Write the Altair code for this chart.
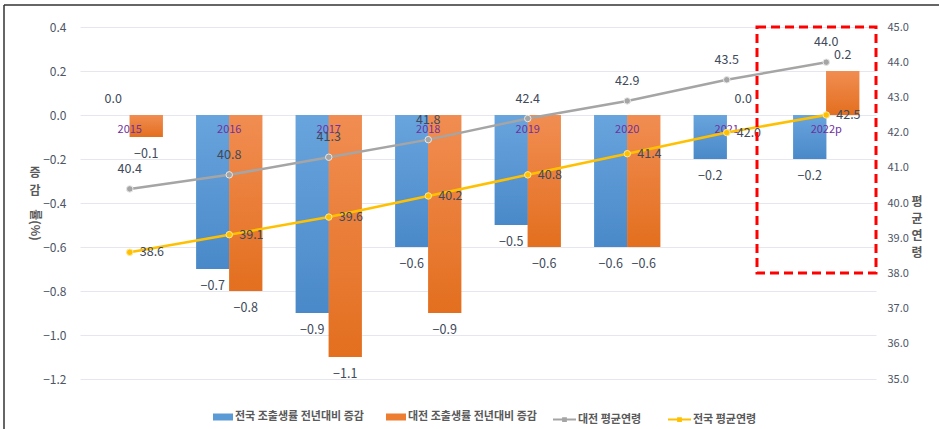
import altair as alt
import pandas as pd

years = ["2015", "2016", "2017", "2018", "2019", "2020", "2021", "2022p"]
nat_rate = [0.0, -0.7, -0.9, -0.6, -0.5, -0.6, -0.2, -0.2]
dj_rate = [-0.1, -0.8, -1.1, -0.9, -0.6, -0.6, 0.0, 0.2]
dj_age = [40.4, 40.8, 41.3, 41.8, 42.4, 42.9, 43.5, 44.0]
nat_age = [38.6, 39.1, 39.6, 40.2, 40.8, 41.4, 42.0, 42.5]
bar_names = ["전국 조출생률 전년대비 증감", "대전 조출생률 전년대비 증감"]
line_names = ["대전 평균연령", "전국 평균연령"]
left_ticks = [-1.2, -1.0, -0.8, -0.6, -0.4, -0.2, 0.0, 0.2, 0.4]
right_ticks = [35, 36, 37, 38, 39, 40, 41, 42, 43, 44, 45]

FONT = "Noto Sans CJK KR"
BLUE, ORANGE, GRAY, YELLOW = "#5B9BD5", "#ED7D31", "#A5A5A5", "#FFC000"
LABEL = "#404a5a"
TICK = "#4d5566"

bars = pd.DataFrame(
    [{"year": y, "series": bar_names[0], "value": v} for y, v in zip(years, nat_rate)]
    + [{"year": y, "series": bar_names[1], "value": v} for y, v in zip(years, dj_rate)]
)
lines = pd.DataFrame(
    [{"year": y, "series": line_names[0], "value": v} for y, v in zip(years, dj_age)]
    + [{"year": y, "series": line_names[1], "value": v} for y, v in zip(years, nat_age)]
)
cats = pd.DataFrame({"year": years})
one = pd.DataFrame({"a": [0]})

xscale = alt.Scale(domain=years, paddingInner=0.337, paddingOuter=0.1685)
off_scale = alt.Scale(domain=bar_names, paddingInner=0, paddingOuter=0)
yl_scale = alt.Scale(domain=[-1.2, 0.4], nice=False, zero=False)
yr_scale = alt.Scale(domain=[35, 45], nice=False, zero=False)

X_axis = alt.X("year:N", scale=xscale, sort=years,
               axis=alt.Axis(labels=False, ticks=False, domain=False, grid=False,
                             title="축 제목", titleFont=FONT, titleFontSize=11,
                             titleColor="#595959", titleFontWeight="bold", titlePadding=4))
X_plain = alt.X("year:N", scale=xscale, sort=years, axis=None)
XO = alt.XOffset("series:N", scale=off_scale, sort=bar_names)

left_axis = alt.Axis(values=left_ticks, format=".1f", grid=True, gridColor="#e6e7ee",
                     domain=False, ticks=False, labelPadding=14, labelFontSize=12,
                     labelFont=FONT, labelColor=TICK, title=None, orient="left")
right_axis = alt.Axis(orient="right", values=right_ticks, format=".1f", grid=False,
                      domain=False, ticks=False, labelPadding=11, labelFontSize=11,
                      labelFont=FONT, labelColor=TICK, title=None)

grad_blue = {"gradient": "linear", "x1": 0, "y1": 0, "x2": 0, "y2": 1,
             "stops": [{"offset": 0, "color": "#68a4dd"}, {"offset": 1, "color": "#4a89c9"}]}
grad_orange = {"gradient": "linear", "x1": 0, "y1": 0, "x2": 0, "y2": 1,
               "stops": [{"offset": 0, "color": "#f18d52"}, {"offset": 1, "color": "#e36f1f"}]}

bar_base = alt.Chart(bars).mark_bar().encode(
    x=X_axis,
    xOffset=XO,
    y=alt.Y("value:Q", scale=yl_scale, axis=left_axis),
    fill=alt.Fill("series:N", scale=alt.Scale(domain=bar_names, range=[BLUE, ORANGE]),
                  legend=alt.Legend(orient="none", legendX=133, legendY=380, direction="horizontal",
                                    title=None, symbolType="M-1,-0.35H1V0.35H-1Z", symbolSize=400,
                                    labelFont=FONT, labelFontSize=11, labelFontWeight="bold",
                                    labelColor="#595959", labelOffset=2, columnPadding=22,
                                    padding=0, symbolStrokeWidth=0)),
)
bar_grad = alt.Chart(bars).mark_bar().encode(
    x=X_plain, xOffset=XO,
    y=alt.Y("value:Q", scale=yl_scale, axis=None),
    fill=alt.condition(alt.datum.series == bar_names[0], alt.value(grad_blue), alt.value(grad_orange)),
)
lab_pos = alt.Chart(bars).transform_filter(alt.datum.value >= 0).mark_text(
    dy=-16, font=FONT, fontSize=12.5, color=LABEL, baseline="middle").encode(
    x=X_plain, xOffset=XO, y=alt.Y("value:Q", scale=yl_scale, axis=None),
    text=alt.Text("value:Q", format=".1f"))
lab_neg = alt.Chart(bars).transform_filter(alt.datum.value < 0).mark_text(
    dy=17, font=FONT, fontSize=12.5, color=LABEL, baseline="middle").encode(
    x=X_plain, xOffset=XO, y=alt.Y("value:Q", scale=yl_scale, axis=None),
    text=alt.Text("value:Q", format=".1f"))
cat_lab = alt.Chart(cats).transform_calculate(zero="0").mark_text(
    dy=15, font=FONT, fontSize=11, color="#7030A0", baseline="middle").encode(
    x=X_plain, y=alt.Y("zero:Q", scale=yl_scale, axis=None), text="year:N")

red_box = alt.Chart(one).mark_rect(fill="transparent", stroke="#FF0000", strokeWidth=3,
                                   strokeDash=[9, 5]).encode(
    x=alt.value(677), x2=alt.value(796), y=alt.value(0), y2=alt.value(246))

border_top = alt.Chart(one).mark_rule(color="#333333", strokeWidth=1.5).encode(
    x=alt.value(-76), x2=alt.value(859), y=alt.value(-22), y2=alt.value(-22))
border_left = alt.Chart(one).mark_rule(color="#333333", strokeWidth=1.5).encode(
    x=alt.value(-76), x2=alt.value(-76), y=alt.value(-22), y2=alt.value(402))

title_style = dict(font=FONT, fontSize=12, fontWeight="bold", color="#595959", baseline="middle")
left_t1 = alt.Chart(one).mark_text(**title_style).encode(
    x=alt.value(-45), y=alt.value(146), text=alt.value("증"))
left_t2 = alt.Chart(one).mark_text(**title_style).encode(
    x=alt.value(-45), y=alt.value(164), text=alt.value("감"))
left_t3 = alt.Chart(one).mark_text(angle=90, **title_style).encode(
    x=alt.value(-45), y=alt.value(198), text=alt.value("률(%)"))
right_title = alt.Chart(one).mark_text(lineBreak="\n", lineHeight=17, **title_style).encode(
    x=alt.value(837), y=alt.value(175), text=alt.value("평\n균\n연\n령"))

line_layer = alt.Chart(lines).mark_line(strokeWidth=2.5).encode(
    x=X_plain,
    y=alt.Y("value:Q", scale=yr_scale, axis=right_axis),
    stroke=alt.Stroke("series:N", scale=alt.Scale(domain=line_names, range=[GRAY, YELLOW]),
                      legend=alt.Legend(orient="none", legendX=472, legendY=380, direction="horizontal",
                                        title=None,
                                        symbolType="M-1,0H1M-0.12,-0.12H0.12V0.12H-0.12Z",
                                        symbolSize=529, symbolStrokeWidth=2,
                                        labelFont=FONT, labelFontSize=11, labelFontWeight="bold",
                                        labelColor="#595959", labelOffset=1, columnPadding=22,
                                        padding=0)),
)
pts = alt.Chart(lines).mark_circle(size=42, strokeWidth=1, opacity=1).encode(
    x=X_plain, y=alt.Y("value:Q", scale=yr_scale, axis=None),
    fill=alt.condition(alt.datum.series == line_names[0], alt.value(GRAY), alt.value(YELLOW)),
    stroke=alt.condition(alt.datum.series == line_names[0], alt.value("#e8e8e8"), alt.value("#ffe89a")),
)
gray_lab = alt.Chart(lines).transform_filter(alt.datum.series == line_names[0]).mark_text(
    dy=-20, font=FONT, fontSize=12.5, color=LABEL, baseline="middle").encode(
    x=X_plain, y=alt.Y("value:Q", scale=yr_scale, axis=None),
    text=alt.Text("value:Q", format=".1f"))
yel_lab = alt.Chart(lines).transform_filter(alt.datum.series == line_names[1]).mark_text(
    dx=10, align="left", font=FONT, fontSize=12.5, color=LABEL, baseline="middle").encode(
    x=X_plain, y=alt.Y("value:Q", scale=yr_scale, axis=None),
    text=alt.Text("value:Q", format=".1f"))

chart = alt.layer(
    bar_base, bar_grad, lab_pos, lab_neg, cat_lab,
    line_layer, pts, gray_lab, yel_lab,
    red_box, border_top, border_left, left_t1, left_t2, left_t3, right_title,
).resolve_scale(y="independent").properties(
    width=796, height=352,
    autosize=alt.AutoSizeParams(type="none"),
    padding={"left": 80, "top": 27, "right": 63, "bottom": 50},
    background="white",
).configure_view(stroke=None)

chart.save("out.html", embed_options={"renderer": "svg", "actions": False})
